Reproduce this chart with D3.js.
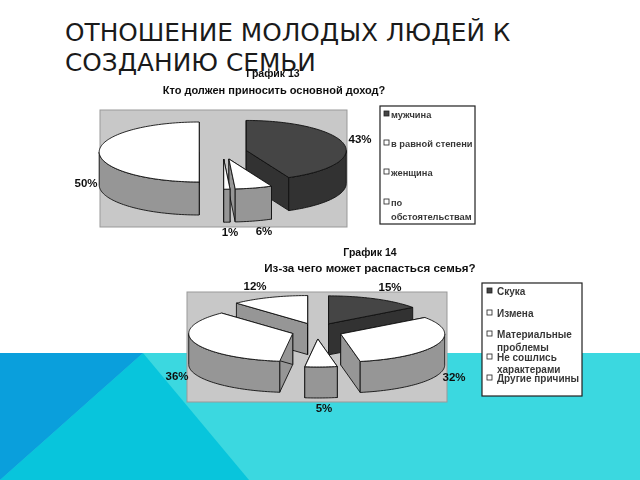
<!DOCTYPE html>
<html>
<head>
<meta charset="utf-8">
<script src="https://cdnjs.cloudflare.com/ajax/libs/d3/7.8.5/d3.min.js"></script>
<style>
  html, body { margin: 0; padding: 0; background: #fff; }
  svg { display: block; }
  .chart text { font-family: "Liberation Sans", sans-serif; fill: #111; }
</style>
</head>
<body>
<svg id="slide" width="640" height="480"></svg>
<script>
var titleLines = ['ОТНОШЕНИЕ МОЛОДЫХ ЛЮДЕЙ К', 'СОЗДАНИЮ СЕМЬИ'];

// chart 13
var incomeCategories = ['мужчина', 'в равной степени', 'женщина', 'по обстоятельствам'];
var incomeValues = [43, 6, 1, 50];
var incomeLegendLines = [['мужчина'], ['в равной степени'], ['женщина'], ['по', 'обстоятельствам']];

// chart 14
var divorceCategories = ['Скука', 'Измена', 'Материальные проблемы', 'Не сошлись характерами', 'Другие причины'];
var divorceValues = [15, 32, 5, 36, 12];
var divorceLegendLines = [['Скука'], ['Измена'], ['Материальные', 'проблемы'], ['Не сошлись', 'характерами'], ['Другие причины']];

var darkTop = '#444444', darkSide = '#333333', lightTop = '#ffffff', lightSide = '#969696';

var svg = d3.select('#slide');

// slide background
var bg = svg.append('g');
bg.append('rect').attr('x', 0).attr('y', 353).attr('width', 640).attr('height', 127).attr('fill', '#3bd8e0');
bg.append('path').attr('d', 'M143,353L249,480L0,480Z').attr('fill', '#08c5dc');
bg.append('path').attr('d', 'M0,353L143,353L0,480Z').attr('fill', '#0a9fdc');

svg.append('g').selectAll('text')
  .data(titleLines)
  .enter().append('text')
    .attr('x', 65)
    .attr('y', function(d, i) { return 41 + i * 30; })
    .attr('font-family', '"DejaVu Sans", sans-serif')
    .attr('font-size', 24.8)
    .attr('fill', '#1a1a1a')
    .text(function(d) { return d; });

var blur = svg.append('defs').append('filter').attr('id', 'soft');
blur.append('feGaussianBlur').attr('stdDeviation', 0.35);

function drawPie(cfg) {
  var g = svg.append('g').attr('class', 'chart').attr('filter', 'url(#soft)');

  g.append('rect')
    .attr('x', cfg.plot[0]).attr('y', cfg.plot[1])
    .attr('width', cfg.plot[2]).attr('height', cfg.plot[3])
    .attr('fill', '#c8c8c8').attr('stroke', '#999').attr('stroke-width', 1);

  // unit circle -> ellipse on screen
  var xScale = d3.scaleLinear().domain([-1, 1]).range([cfg.cx - cfg.rx, cfg.cx + cfg.rx]);
  var yScale = d3.scaleLinear().domain([-1, 1]).range([cfg.cy - cfg.ry, cfg.cy + cfg.ry]);

  var arcs = d3.pie().sort(null)(cfg.values);

  function pt(d, a, r, drop) {
    var mid = (d.startAngle + d.endAngle) / 2;
    return [
      xScale(r * Math.sin(a)) + cfg.explodeX * Math.sin(mid),
      yScale(-r * Math.cos(a)) - cfg.explodeY * Math.cos(mid) + (drop || 0)
    ];
  }

  function arcPoints(d, from, to, drop) {
    var n = Math.max(2, Math.ceil((to - from) / 0.03));
    return d3.range(n + 1).map(function(i) {
      return pt(d, from + (to - from) * i / n, 1, drop);
    });
  }

  var line = d3.line();

  // back slices first
  var order = arcs.slice().sort(function(a, b) {
    return -Math.cos((a.startAngle + a.endAngle) / 2) - -Math.cos((b.startAngle + b.endAngle) / 2);
  });

  order.forEach(function(d) {
    var top = d.index == 0 ? darkTop : lightTop;
    var side = d.index == 0 ? darkSide : lightSide;
    var slice = g.append('g').attr('stroke', '#111').attr('stroke-width', 0.9).attr('stroke-linejoin', 'round');

    [d.startAngle, d.endAngle].forEach(function(a) {
      slice.append('path')
        .attr('fill', side)
        .attr('d', line([pt(d, a, 0), pt(d, a, 1), pt(d, a, 1, cfg.depth), pt(d, a, 0, cfg.depth)]) + 'Z');
    });

    // outer wall, only the part facing the viewer
    var from = Math.max(d.startAngle, Math.PI / 2);
    var to = Math.min(d.endAngle, Math.PI * 1.5);
    if (to > from) {
      slice.append('path')
        .attr('fill', side)
        .attr('d', line(arcPoints(d, from, to, 0).concat(arcPoints(d, from, to, cfg.depth).reverse())) + 'Z');
    }

    slice.append('path')
      .attr('fill', top)
      .attr('d', line([pt(d, d.startAngle, 0)].concat(arcPoints(d, d.startAngle, d.endAngle, 0))) + 'Z');
  });

  // percent labels
  g.append('g').selectAll('text')
    .data(cfg.values)
    .enter().append('text')
      .attr('x', function(d, i) { return cfg.labelPos[i][0]; })
      .attr('y', function(d, i) { return cfg.labelPos[i][1]; })
      .attr('text-anchor', 'middle')
      .attr('font-size', 11.5)
      .attr('font-weight', 'bold')
      .text(function(d) { return d + '%'; });

  // headings
  cfg.heads.forEach(function(h) {
    g.append('text')
      .attr('x', h[1]).attr('y', h[2])
      .attr('text-anchor', 'middle')
      .attr('font-size', h[3])
      .attr('font-weight', 'bold')
      .text(h[0]);
  });

  // legend
  var box = cfg.legend;
  g.append('rect')
    .attr('x', box[0]).attr('y', box[1]).attr('width', box[2]).attr('height', box[3])
    .attr('fill', '#fff').attr('stroke', '#222').attr('stroke-width', 1.2);

  cfg.legendLines.forEach(function(lines, i) {
    var row = cfg.legendRows[i];
    g.append('rect')
      .attr('x', box[0] + cfg.swatchX).attr('y', row[0] - 3)
      .attr('width', 5).attr('height', 5)
      .attr('fill', i == 0 ? darkTop : '#fff')
      .attr('stroke', '#222').attr('stroke-width', 0.8);
    lines.forEach(function(t, j) {
      g.append('text')
        .attr('x', box[0] + cfg.legendTextX).attr('y', row[j] + 3.5)
        .attr('font-size', cfg.legendSize)
        .attr('font-weight', 'bold')
        .attr('fill-opacity', 0.85)
        .text(t);
    });
  });
}

drawPie({
  values: incomeValues,
  plot: [100, 110, 247, 117],
  cx: 223, cy: 152, rx: 100, ry: 30,
  explodeX: 23.8, explodeY: 7.2, depth: 33,
  labelPos: [[360, 143], [264, 235], [230, 236], [86, 187]],
  heads: [['График 13', 273, 77, 10.5], ['Кто должен приносить основной доход?', 274, 94, 11]],
  legend: [380, 106, 95, 118],
  swatchX: 4, legendTextX: 11, legendSize: 9.3,
  legendLines: incomeLegendLines,
  legendRows: [[114], [143], [172], [202, 216]]
});

drawPie({
  values: divorceValues,
  plot: [187, 292, 260, 110],
  cx: 317, cy: 331, rx: 104, ry: 28,
  explodeX: 25.5, explodeY: 8, depth: 31,
  labelPos: [[390, 291], [454, 381], [324, 412], [177, 380], [255, 290]],
  heads: [['График 14', 370, 256, 10.5], ['Из-за чего может распасться семья?', 370, 272, 11.6]],
  legend: [482, 283, 100, 113],
  swatchX: 5, legendTextX: 15, legendSize: 10,
  legendLines: divorceLegendLines,
  legendRows: [[291], [313], [334, 347], [357, 369], [378]]
});
</script>
</body>
</html>
